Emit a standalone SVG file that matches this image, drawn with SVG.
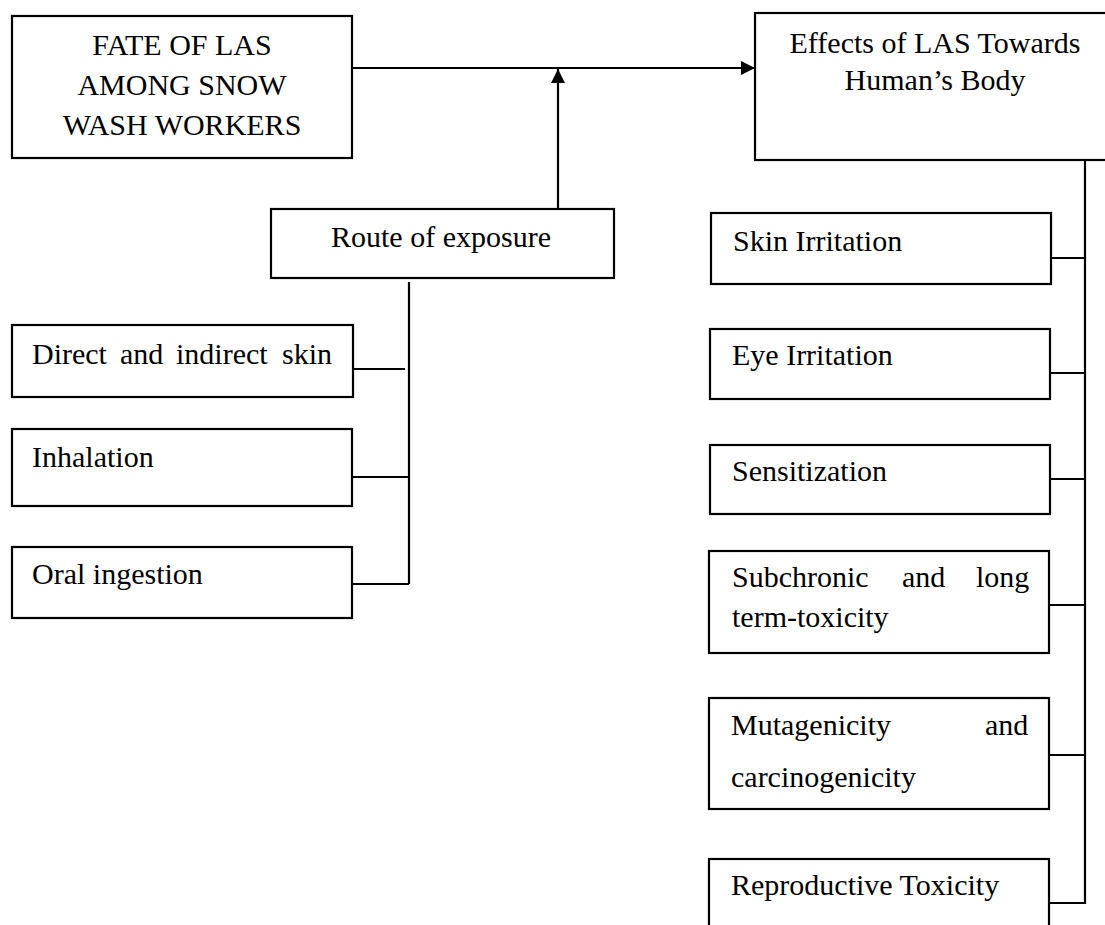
<svg xmlns="http://www.w3.org/2000/svg" width="1105" height="925" viewBox="0 0 1105 925">
<style>
.box{fill:#fff;stroke:#000;stroke-width:2.2}
.ln{fill:none;stroke:#000;stroke-width:2.2}
text{font-family:"Liberation Serif","Times New Roman",serif;font-size:30px;fill:#000}
.c{text-anchor:middle}
</style>
<defs>
<marker id="ah" markerUnits="userSpaceOnUse" markerWidth="16" markerHeight="16" refX="14" refY="7" orient="auto">
<path d="M0,0 L14,7 L0,14 Z" fill="#000"/>
</marker>
</defs>
<rect width="1105" height="925" fill="#fff"/>
<g id="connectors">
<path class="ln" d="M352,68 H755" marker-end="url(#ah)"/>
<path class="ln" d="M558,209 V69" marker-end="url(#ah)"/>
<path class="ln" d="M409,282 V584"/>
<path class="ln" d="M353,369 H405"/>
<path class="ln" d="M353,477 H409"/>
<path class="ln" d="M353,584 H409"/>
<path class="ln" d="M1085,160 V904"/>
<path class="ln" d="M1051,258 H1085"/>
<path class="ln" d="M1050,373 H1085"/>
<path class="ln" d="M1050,479 H1085"/>
<path class="ln" d="M1049,605 H1085"/>
<path class="ln" d="M1049,755 H1085"/>
<path class="ln" d="M1049,903 H1085"/>
</g>
<g id="fate">
<rect class="box" x="12" y="16" width="340" height="142"/>
<text class="c" x="182" y="55">FATE OF LAS</text>
<text class="c" x="182" y="95">AMONG SNOW</text>
<text class="c" x="182" y="135">WASH WORKERS</text>
</g>
<g id="effects">
<rect class="box" x="755" y="13" width="360" height="147"/>
<text class="c" x="935" y="53">Effects of LAS Towards</text>
<text class="c" x="935" y="90">Human’s Body</text>
</g>
<g id="route">
<rect class="box" x="271" y="209" width="343" height="69"/>
<text x="331" y="247">Route of exposure</text>
</g>
<g id="direct">
<rect class="box" x="12" y="325" width="341" height="72"/>
<text y="364"><tspan x="32">Direct</tspan><tspan x="120">and</tspan><tspan x="176">indirect</tspan><tspan x="282">skin</tspan></text>
</g>
<g id="inhalation">
<rect class="box" x="12" y="429" width="340" height="77"/>
<text x="32" y="467">Inhalation</text>
</g>
<g id="oral">
<rect class="box" x="12" y="547" width="340" height="71"/>
<text x="32" y="584">Oral ingestion</text>
</g>
<g id="skin">
<rect class="box" x="711" y="213" width="340" height="71"/>
<text x="733" y="251">Skin Irritation</text>
</g>
<g id="eye">
<rect class="box" x="710" y="329" width="340" height="70"/>
<text x="732" y="365">Eye Irritation</text>
</g>
<g id="sensitization">
<rect class="box" x="710" y="445" width="340" height="69"/>
<text x="732" y="481">Sensitization</text>
</g>
<g id="subchronic">
<rect class="box" x="709" y="551" width="340" height="102"/>
<text y="587"><tspan x="732">Subchronic</tspan><tspan x="902">and</tspan><tspan x="976">long</tspan></text>
<text x="732" y="627">term-toxicity</text>
</g>
<g id="mutagenicity">
<rect class="box" x="709" y="698" width="340" height="111"/>
<text y="735"><tspan x="731">Mutagenicity</tspan><tspan x="985">and</tspan></text>
<text x="731" y="787">carcinogenicity</text>
</g>
<g id="reproductive">
<rect class="box" x="709" y="859" width="340" height="80"/>
<text x="731" y="895">Reproductive Toxicity</text>
</g>
</svg>
